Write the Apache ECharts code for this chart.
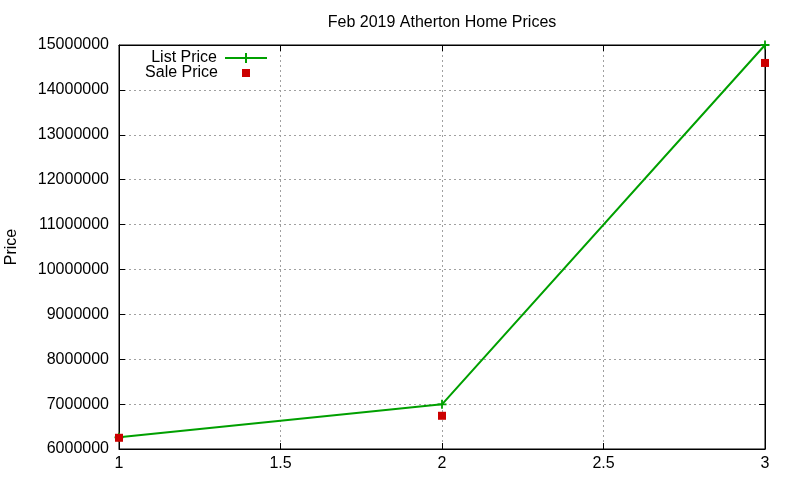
<!DOCTYPE html>
<html>
<head>
<meta charset="utf-8">
<script src="https://cdn.jsdelivr.net/npm/echarts@6/dist/echarts.min.js"></script>
<style>
  html, body { margin: 0; padding: 0; background: #fff; }
  #chart { width: 800px; height: 480px; }
</style>
</head>
<body>
<div id="chart"></div>
<script>
// values
const homeIndex = [1, 2, 3];
const listPrice = [6260000, 6995000, 15000000];
const salePrice = [6250000, 6740000, 14600000];
const xTicks = [1, 1.5, 2, 2.5, 3];
const priceMin = 6000000, priceMax = 15000000, priceStep = 1000000;

const font = 'Liberation Sans, Arial, sans-serif';
const fs = 16;
const gridLine = { show: true, lineStyle: { color: '#a0a0a0', type: [2, 3], width: 1 } };

let chart = echarts.init(document.getElementById('chart'));

let option = {
    animation: false,
    backgroundColor: '#fff',
    textStyle: { fontFamily: font },
    title: {
        text: 'Feb 2019 Atherton Home Prices',
        left: 437,
        textAlign: 'center',
        top: 10,
        textStyle: { fontSize: fs, fontWeight: 'normal', color: '#000', fontFamily: font }
    },
    legend: [
        {
            data: [{ name: 'List Price', icon: 'path://M0,4H42V6H0Z M20,0H22V10H20Z' }],
            right: 528,
            top: 45,
            align: 'right',
            itemWidth: 42,
            itemHeight: 10,
            textStyle: { fontSize: fs, color: '#000', fontFamily: font, padding: [0, 3, 0, 0] }
        },
        {
            data: [{ name: 'Sale Price', icon: 'rect' }],
            right: 545,
            top: 60,
            align: 'right',
            itemWidth: 8,
            itemHeight: 8,
            itemStyle: { opacity: 1 },
            textStyle: { fontSize: fs, color: '#000', fontFamily: font, padding: [0, 19, 0, 0] }
        }
    ],
    grid: {
        left: 119,
        right: 35,
        top: 45,
        bottom: 31,
        outerBoundsMode: 'none',
        containLabel: false,
        show: true,
        borderColor: '#000',
        borderWidth: 1
    },
    xAxis: [
        {
            type: 'value',
            min: 1,
            max: 3,
            interval: 0.5,
            axisLine: { show: true, lineStyle: { color: '#000' } },
            axisTick: { show: true, inside: true, length: 6, lineStyle: { color: '#000' } },
            axisLabel: {
                margin: 7, fontSize: fs, color: '#000', fontFamily: font,
                formatter: v => xTicks.indexOf(v) >= 0 ? String(v) : ''
            },
            splitLine: gridLine
        },
        {
            type: 'value',
            position: 'top',
            min: 1,
            max: 3,
            interval: 0.5,
            axisLine: { show: true, lineStyle: { color: '#000' } },
            axisTick: { show: true, inside: true, length: 6, lineStyle: { color: '#000' } },
            axisLabel: { show: false },
            splitLine: { show: false }
        }
    ],
    yAxis: [
        {
            type: 'value',
            min: priceMin,
            max: priceMax,
            interval: priceStep,
            name: 'Price',
            nameLocation: 'middle',
            nameGap: 99,
            nameTextStyle: { fontSize: fs, color: '#000', fontFamily: font },
            axisLine: { show: true, lineStyle: { color: '#000' } },
            axisTick: { show: true, inside: true, length: 6, lineStyle: { color: '#000' } },
            axisLabel: { margin: 10, fontSize: fs, color: '#000', fontFamily: font, formatter: v => String(v) },
            splitLine: gridLine
        },
        {
            type: 'value',
            position: 'right',
            min: priceMin,
            max: priceMax,
            interval: priceStep,
            axisLine: { show: true, lineStyle: { color: '#000' } },
            axisTick: { show: true, inside: true, length: 6, lineStyle: { color: '#000' } },
            axisLabel: { show: false },
            splitLine: { show: false }
        }
    ],
    series: [
        {
            name: 'List Price',
            type: 'line',
            data: homeIndex.map((x, i) => [x, listPrice[i]]),
            symbol: 'path://M4,0H6V10H4Z M0,4H10V6H0Z',
            symbolSize: 9,
            showSymbol: true,
            lineStyle: { color: '#00a000', width: 2 },
            itemStyle: { color: '#00a000' },
            z: 3
        },
        {
            name: 'Sale Price',
            type: 'scatter',
            data: homeIndex.map((x, i) => [x, salePrice[i]]),
            symbol: 'rect',
            symbolSize: 8,
            itemStyle: { color: '#cc0000', opacity: 1 },
            z: 4
        }
    ]
};

chart.setOption(option);
</script>
</body>
</html>
